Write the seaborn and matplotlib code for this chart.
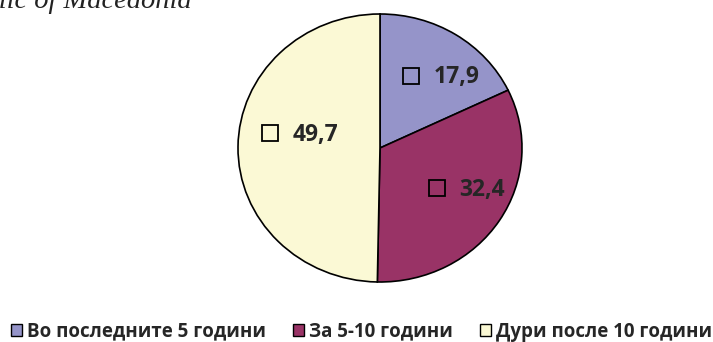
import matplotlib
matplotlib.use("Agg")
import matplotlib.pyplot as plt
from matplotlib.patches import Patch
import seaborn as sns

# Share of respondents by time horizon
categories = ["Во последните 5 години", "За 5-10 години", "Дури после 10 години"]
values = [17.9, 32.4, 49.7]
value_labels = ["17,9", "32,4", "49,7"]
colors = ["#9594C9", "#993366", "#FBF9D5"]

sns.set_theme(style="white")
plt.rcParams["font.family"] = ["Open Sans", "DejaVu Sans"]

fig = plt.figure(figsize=(7.13, 3.42), dpi=100)

# Pie axes (slightly wider than tall, as in the original layout)
W, H = 713, 342
cx, cy, rx, ry = 380, 148, 142, 134
ax = fig.add_axes([(cx - rx) / W, (H - cy - ry) / H, 2 * rx / W, 2 * ry / H])
wedges, _ = ax.pie(values, colors=colors, startangle=90, counterclock=False,
                   wedgeprops=dict(edgecolor="black", linewidth=1.2))
ax.set_aspect("auto")
ax.set_xlim(-1, 1)
ax.set_ylim(-1, 1)
ax.axis("off")

# Value labels, each preceded by an open square
label_pos = [(0.22, 0.54), (0.40, -0.30), (-0.775, 0.11)]
for (x, y), txt in zip(label_pos, value_labels):
    ax.plot(x, y, marker="s", markersize=11, markerfacecolor="none",
            markeredgecolor="black", markeredgewidth=1.3, clip_on=False)
    ax.text(x + 0.32, y - 0.01, txt, ha="center", va="center", fontsize=16.5,
            fontweight="bold", color="#262626")

# Legend along the bottom
handles = [Patch(facecolor=c, edgecolor="black", linewidth=1) for c in colors]
fig.legend(handles, categories, loc="lower center", bbox_to_anchor=(0.507, -0.048),
           ncol=3, frameon=False, handlelength=0.6, handleheight=0.6,
           handletextpad=0.25, columnspacing=1.45, labelcolor="#262626",
           prop=dict(family="Open Sans", weight="bold", size=13.5))

# Truncated caption at the top-left corner
fig.text(192 / W, 1 - 8 / H, "Republic of Macedonia", ha="right", va="baseline",
         fontsize=20.5, style="italic", family="Liberation Serif", color="#222222")

fig.savefig("out.png", dpi=100)
